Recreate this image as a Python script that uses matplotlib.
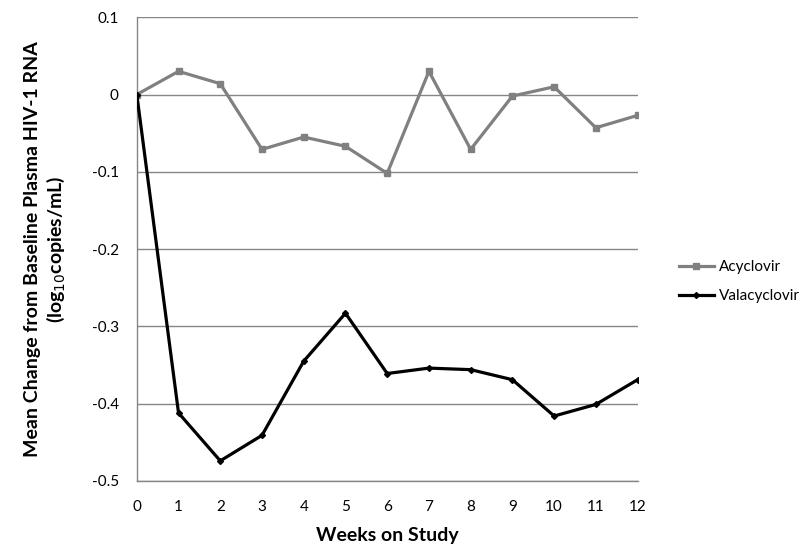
import matplotlib
matplotlib.use("Agg")
import matplotlib.pyplot as plt

plt.rcParams['font.family'] = ['Lato', 'DejaVu Sans']

weeks = [0, 1, 2, 3, 4, 5, 6, 7, 8, 9, 10, 11, 12]
acyclovir = [0.0, 0.030, 0.014, -0.071, -0.055, -0.067, -0.102, 0.030, -0.071,
             -0.002, 0.010, -0.043, -0.027]
valacyclovir = [0.0, -0.412, -0.474, -0.441, -0.345, -0.283, -0.361, -0.354,
                -0.356, -0.369, -0.416, -0.401, -0.369]
y_ticks = [0.1, 0, -0.1, -0.2, -0.3, -0.4, -0.5]
y_tick_labels = ["0.1", "0", "-0.1", "-0.2", "-0.3", "-0.4", "-0.5"]

fig = plt.figure(figsize=(8, 5.56), dpi=100)
ax = fig.add_axes([0.171, 0.135, 0.626, 0.834])

grid_col = "#868686"
for y in y_ticks:
    ax.axhline(y, color=grid_col, lw=1.0, zorder=0)

ax.plot(weeks, acyclovir, color="#808080", lw=2.3, marker="s", ms=5,
        label="Acyclovir", zorder=2)
ax.plot(weeks, valacyclovir, color="black", lw=2.3, marker="D", ms=3,
        label="Valacyclovir", zorder=3)

ax.set_xlim(0, 12)
ax.set_ylim(-0.5, 0.1)
ax.set_xticks(weeks)
ax.set_yticks(y_ticks)
ax.set_yticklabels(y_tick_labels)
ax.tick_params(axis="both", length=0, labelsize=11, colors="black")
ax.tick_params(axis="y", pad=13)
ax.tick_params(axis="x", pad=14)

for side in ["top", "right"]:
    ax.spines[side].set_visible(False)
for side in ["left", "bottom"]:
    ax.spines[side].set_color(grid_col)
    ax.spines[side].set_linewidth(1.0)

ax.set_xlabel("Weeks on Study", fontsize=14, fontweight="bold", labelpad=9)
ax.set_ylabel("Mean Change from Baseline Plasma HIV-1 RNA\n(log$_{10}$copies/mL)",
              fontsize=14, fontweight="bold", labelpad=18, linespacing=1.2)

ax.legend(loc="center left", bbox_to_anchor=(1.055, 0.43), frameon=False,
          fontsize=11, handlelength=2.3, handletextpad=0.3, labelspacing=1.0)

fig.savefig("out.png", dpi=100)
